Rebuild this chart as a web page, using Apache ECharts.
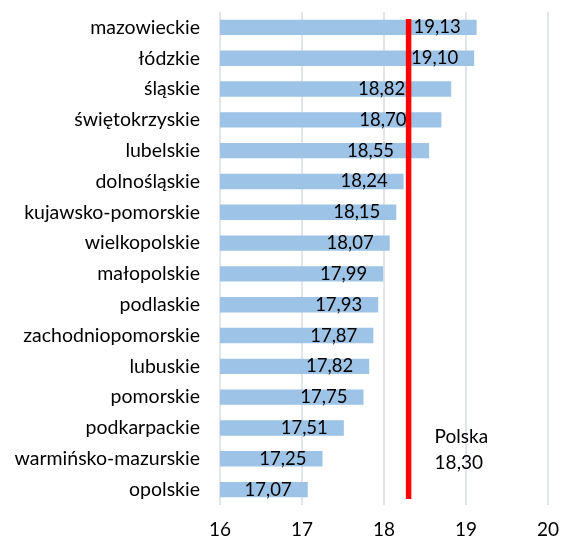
<!DOCTYPE html>
<html>
    <head>
        <meta charset="utf-8">
        <script src="https://cdn.jsdelivr.net/npm/echarts@6/dist/echarts.min.js"></script>
        <style>
            html, body { margin: 0; padding: 0; background: #fff; }
            #main { width: 562px; height: 541px; }
        </style>
    </head>
    <body>
        <div id="main"></div>
        <script>
            var regions = ['mazowieckie', 'łódzkie', 'śląskie', 'świętokrzyskie', 'lubelskie',
                'dolnośląskie', 'kujawsko-pomorskie', 'wielkopolskie', 'małopolskie', 'podlaskie',
                'zachodniopomorskie', 'lubuskie', 'pomorskie', 'podkarpackie',
                'warmińsko-mazurskie', 'opolskie'];
            var values = [19.13, 19.10, 18.82, 18.70, 18.55, 18.24, 18.15, 18.07, 17.99, 17.93,
                17.87, 17.82, 17.75, 17.51, 17.25, 17.07];
            var polska = 18.30;
            var xTicks = [16, 17, 18, 19, 20];

            // labels that Excel pushed left so they don't sit under the red line
            var labelNudge = { 'śląskie': -30, 'świętokrzyskie': -19, 'lubelskie': -19 };

            var fmt = function (v) {
                return v.toFixed(2).replace('.', ',');
            };

            var FONT = 'Lato, "Noto Sans", sans-serif';

            var barData = values.map(function (v, i) {
                var item = { value: v };
                if (labelNudge[regions[i]]) {
                    item.label = { offset: [labelNudge[regions[i]], 0] };
                }
                return item;
            });

            var chart = echarts.init(document.getElementById('main'));

            chart.setOption({
                animation: false,
                grid: {
                    left: 220,
                    right: 13,
                    top: 12,
                    bottom: 36
                },
                xAxis: {
                    type: 'value',
                    min: xTicks[0],
                    max: xTicks[xTicks.length - 1],
                    interval: 1,
                    axisLine: { show: false },
                    axisTick: { show: false },
                    axisLabel: {
                        color: '#000',
                        fontSize: 19,
                        fontFamily: FONT,
                        margin: 15
                    },
                    splitLine: {
                        lineStyle: { color: '#d9dde6', width: 1.5 }
                    }
                },
                yAxis: [{
                    type: 'category',
                    inverse: true,
                    data: regions,
                    axisLine: { show: false },
                    axisTick: { show: false },
                    axisLabel: {
                        color: '#000',
                        fontSize: 19.5,
                        fontFamily: FONT,
                        margin: 20
                    }
                }, {
                    type: 'value',
                    min: 0,
                    max: 100,
                    show: false
                }],
                series: [{
                    type: 'bar',
                    data: barData,
                    barWidth: '50%',
                    itemStyle: { color: '#9dc3e6' },
                    label: {
                        show: true,
                        position: 'insideRight',
                        distance: 16,
                        color: '#000',
                        fontSize: 18.5,
                        fontFamily: FONT,
                        formatter: function (p) { return fmt(p.value); }
                    },
                    z: 2
                }, {
                    type: 'line',
                    yAxisIndex: 1,
                    data: [[polska, 1.2], [polska, 98.6]],
                    symbol: 'none',
                    lineStyle: { color: '#ff0000', width: 5.5 },
                    z: 3
                }, {
                    type: 'scatter',
                    yAxisIndex: 1,
                    data: [[polska, 11.2]],
                    symbolSize: 0,
                    itemStyle: { opacity: 1 },
                    label: {
                        show: true,
                        position: 'right',
                        distance: 26,
                        color: '#000',
                        fontSize: 19,
                        fontFamily: FONT,
                        lineHeight: 26,
                        formatter: function () { return 'Polska\n' + fmt(polska); }
                    },
                    z: 3
                }]
            });
        </script>
    </body>
</html>
